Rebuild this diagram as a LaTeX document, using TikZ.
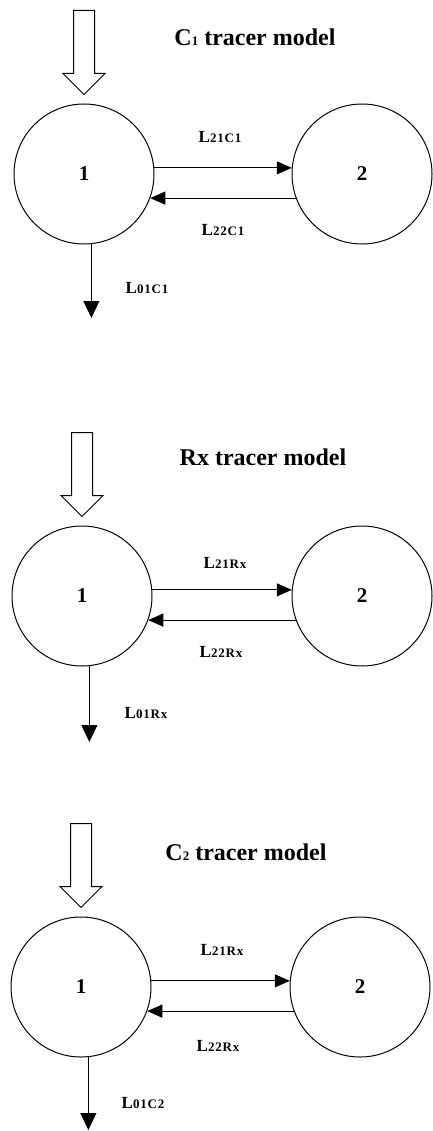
\documentclass[tikz,border=0pt]{standalone}
\usepackage{fontspec}
\setmainfont{Liberation Serif}
\usepackage{tikz}
\usetikzlibrary{arrows.meta}
\newcommand{\lsub}[1]{{\fontsize{13}{15}\selectfont\addfontfeature{LetterSpace=6}#1}}

\begin{document}
\begin{tikzpicture}[x=1pt,y=-1pt,
  comp/.style={draw, circle, line width=1pt, minimum size=140pt, inner sep=0pt, font=\fontsize{21}{24}\selectfont\bfseries},
  title/.style={font=\fontsize{24}{28}\selectfont\bfseries, inner sep=0pt},
  lab/.style={font=\fontsize{17}{19}\selectfont\bfseries, inner sep=0pt},
  flow/.style={line width=1pt, -{Triangle[length=15pt,width=13pt]}},
  drain/.style={line width=1pt, -{Triangle[length=17pt,width=16pt]}},
  hollow/.style={line width=1pt, line join=miter}]
\useasboundingbox (0,0) rectangle (432,1131);

% C1 tracer model
\node[comp] (a1) at (84,174) {1};
\node[comp] (a2) at (362,174) {2};
\node[title] (ta) at (255,37) {C\lsub{1} tracer model};
\node[lab] (la21) at (220,137) {L\lsub{21C1}};
\node[lab] (la22) at (223,230) {L\lsub{22C1}};
\node[lab] (la01) at (147,288) {L\lsub{01C1}};
\coordinate (ina) at ([yshift=9pt]a1.north);
\coordinate (outa) at (0,318);
\draw[hollow] (ina) -- ++(-21,-21) -- ++(10.5,0) -- ++(0,-63) -- ++(21,0) -- ++(0,63) -- ++(10.5,0) -- cycle;
\draw[flow] (a1.5) -- (a2.175);
\draw[flow] (a2.200) -- (a1.-20);
\draw[drain] (a1.-84) -- (a1.-84 |- outa);

% Rx tracer model
\node[comp] (b1) at (82,596) {1};
\node[comp] (b2) at (362,596) {2};
\node[title] (tb) at (263,457) {Rx tracer model};
\node[lab] (lb21) at (225,563) {L\lsub{21Rx}};
\node[lab] (lb22) at (221,652) {L\lsub{22Rx}};
\node[lab] (lb01) at (146,713) {L\lsub{01Rx}};
\coordinate (inb) at ([yshift=9pt]b1.north);
\coordinate (outb) at (0,742);
\draw[hollow] (inb) -- ++(-21,-21) -- ++(10.5,0) -- ++(0,-63) -- ++(21,0) -- ++(0,63) -- ++(10.5,0) -- cycle;
\draw[flow] (b1.5) -- (b2.175);
\draw[flow] (b2.200) -- (b1.-20);
\draw[drain] (b1.-84) -- (b1.-84 |- outb);

% C2 tracer model
\node[comp] (c1) at (81,987) {1};
\node[comp] (c2) at (360,987) {2};
\node[title] (tc) at (246,852) {C\lsub{2} tracer model};
\node[lab] (lc21) at (222,950) {L\lsub{21Rx}};
\node[lab] (lc22) at (218,1046) {L\lsub{22Rx}};
\node[lab] (lc01) at (143,1103) {L\lsub{01C2}};
\coordinate (inc) at ([yshift=9pt]c1.north);
\coordinate (outc) at (0,1130);
\draw[hollow] (inc) -- ++(-21,-21) -- ++(10.5,0) -- ++(0,-63) -- ++(21,0) -- ++(0,63) -- ++(10.5,0) -- cycle;
\draw[flow] (c1.5) -- (c2.175);
\draw[flow] (c2.200) -- (c1.-20);
\draw[drain] (c1.-84) -- (c1.-84 |- outc);
\end{tikzpicture}
\end{document}
